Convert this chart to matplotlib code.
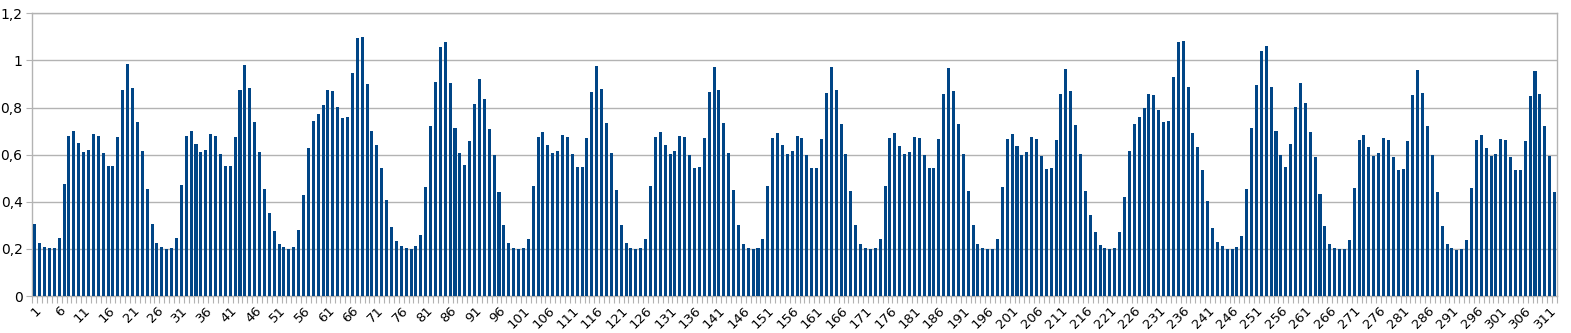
import numpy as np
import matplotlib
matplotlib.use("Agg")
import matplotlib.pyplot as plt
from matplotlib.ticker import FixedLocator, FuncFormatter

# hourly values, one list per day (13 days x 24)
day01 = [0.306, 0.225, 0.207, 0.202, 0.205, 0.246, 0.474, 0.681, 0.702, 0.648, 0.611, 0.621,
         0.688, 0.681, 0.607, 0.552, 0.553, 0.676, 0.874, 0.985, 0.884, 0.740, 0.614, 0.454]
day02 = [0.306, 0.225, 0.207, 0.201, 0.204, 0.245, 0.471, 0.679, 0.699, 0.645, 0.610, 0.620,
         0.686, 0.679, 0.604, 0.550, 0.552, 0.676, 0.873, 0.981, 0.883, 0.739, 0.613, 0.454]
day03 = [0.351, 0.277, 0.219, 0.207, 0.201, 0.209, 0.279, 0.429, 0.627, 0.741, 0.774, 0.811,
         0.873, 0.869, 0.802, 0.754, 0.758, 0.947, 1.097, 1.099, 0.900, 0.702, 0.641, 0.543]
day04 = [0.408, 0.293, 0.235, 0.214, 0.202, 0.201, 0.212, 0.260, 0.461, 0.723, 0.910, 1.058,
         1.080, 0.903, 0.712, 0.608, 0.558, 0.657, 0.816, 0.920, 0.836, 0.708, 0.599, 0.441]
day05 = [0.303, 0.224, 0.205, 0.200, 0.202, 0.243, 0.468, 0.676, 0.696, 0.641, 0.606, 0.616,
         0.682, 0.676, 0.601, 0.546, 0.549, 0.671, 0.867, 0.975, 0.877, 0.736, 0.607, 0.450]
day06 = [0.301, 0.224, 0.205, 0.201, 0.202, 0.243, 0.468, 0.675, 0.695, 0.641, 0.604, 0.616,
         0.679, 0.675, 0.600, 0.545, 0.546, 0.669, 0.865, 0.972, 0.876, 0.734, 0.606, 0.449]
day07 = [0.301, 0.222, 0.204, 0.200, 0.202, 0.242, 0.467, 0.672, 0.692, 0.640, 0.603, 0.614,
         0.678, 0.672, 0.599, 0.543, 0.545, 0.666, 0.862, 0.971, 0.874, 0.730, 0.604, 0.447]
day08 = [0.300, 0.222, 0.204, 0.200, 0.202, 0.242, 0.466, 0.669, 0.691, 0.638, 0.603, 0.613,
         0.676, 0.669, 0.597, 0.542, 0.542, 0.665, 0.859, 0.968, 0.872, 0.729, 0.603, 0.446]
day09 = [0.300, 0.222, 0.204, 0.198, 0.201, 0.242, 0.464, 0.668, 0.689, 0.637, 0.600, 0.611,
         0.675, 0.668, 0.596, 0.541, 0.542, 0.664, 0.856, 0.965, 0.869, 0.727, 0.601, 0.444]
day10 = [0.344, 0.272, 0.215, 0.202, 0.198, 0.205, 0.272, 0.420, 0.616, 0.729, 0.761, 0.798,
         0.856, 0.853, 0.791, 0.739, 0.744, 0.930, 1.078, 1.081, 0.886, 0.691, 0.631, 0.535]
day11 = [0.402, 0.287, 0.231, 0.211, 0.200, 0.198, 0.209, 0.256, 0.454, 0.713, 0.894, 1.041,
         1.061, 0.889, 0.699, 0.599, 0.548, 0.645, 0.802, 0.904, 0.821, 0.695, 0.589, 0.434]
day12 = [0.297, 0.219, 0.202, 0.198, 0.200, 0.239, 0.460, 0.662, 0.683, 0.631, 0.596, 0.606,
         0.671, 0.662, 0.591, 0.536, 0.538, 0.658, 0.852, 0.958, 0.860, 0.722, 0.597, 0.441]
day13 = [0.297, 0.219, 0.202, 0.197, 0.200, 0.239, 0.460, 0.661, 0.682, 0.630, 0.594, 0.604,
         0.668, 0.661, 0.590, 0.535, 0.536, 0.658, 0.849, 0.955, 0.859, 0.720, 0.596, 0.441]

values = (day01 + day02 + day03 + day04 + day05 + day06 + day07
          + day08 + day09 + day10 + day11 + day12 + day13)
categories = np.arange(1, len(values) + 1)
tick_labels = [str(c) for c in categories[::5]]
y_ticks = [0, 0.2, 0.4, 0.6, 0.8, 1.0, 1.2]

bar_color = "#004586"
grid_color = "#b3b3b3"

fig = plt.figure(figsize=(15.71, 3.33), dpi=100)
ax = fig.add_axes([32.3 / 1571, 1 - 296 / 333, (1557 - 32.3) / 1571, (296 - 13.3) / 333])

ax.bar(categories, values, width=0.62, color=bar_color, zorder=3)

ax.set_xlim(0.5, len(values) + 0.5)
ax.set_ylim(0, 1.2)

# y axis with comma decimals
ax.yaxis.set_major_locator(FixedLocator(y_ticks))
ax.yaxis.set_major_formatter(FuncFormatter(lambda v, p: f"{v:g}".replace(".", ",")))
ax.grid(axis="y", color=grid_color, linewidth=1, zorder=0)
ax.tick_params(axis="y", length=4, color=grid_color, labelsize=10, pad=3)

# x axis: labels every 5, ticks at each category boundary
ax.set_xticks(categories[::5])
ax.set_xticklabels(tick_labels, rotation=45, ha="right", rotation_mode="anchor", fontsize=9.5)
ax.tick_params(axis="x", which="major", length=0, pad=6)
ax.xaxis.set_minor_locator(FixedLocator(np.arange(0.5, len(values) + 1, 1)))
ax.tick_params(axis="x", which="minor", length=5, color=grid_color, width=0.8)

for s in ax.spines.values():
    s.set_color(grid_color)
    s.set_linewidth(1)

fig.savefig("out.png", dpi=100)
